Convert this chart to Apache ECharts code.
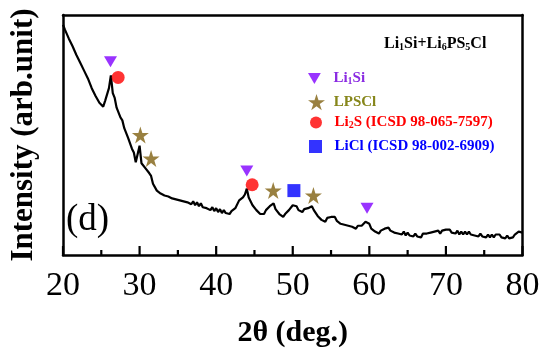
<!DOCTYPE html>
<html>
<head>
<meta charset="utf-8">
<script src="https://cdn.jsdelivr.net/npm/echarts@6/dist/echarts.min.js"></script>
<style>
html,body{margin:0;padding:0;background:#fff;}
#c{width:545px;height:353px;}
</style>
</head>
<body>
<div id="c"></div>
<script>
// Diffraction angle grid (deg), sampled every 0.25 deg from 20 to 80
const angleStart = 20, angleStep = 0.25;
// Intensity (arbitrary units)
const intensity = [
236,231,229,222,220,214,212,205,
204,197,196,189,188,181,180,171,
170,163,162,156,157,152,158,160,
171,184,166,161,151,149,141,138,
130,128,120,118,109,105,95,94,
112,94,93,89,91,84,81,73,
72,66,67,63,65,61,63,60,
62,58,60,57,59,56,58,55,
57,54,56,52,55,51,54,50,
53,49,51,48,50,46,49,45,
48,44,47,43,46,43,45,42,
45,44,48,49,56,55,59,62,
68,59,57,51,52,46,47,42,
44,42,46,45,50,50,53,47,
47,42,43,39,42,41,46,46,
51,51,50,46,48,44,47,45,
48,46,50,46,45,40,41,36,
38,34,38,36,39,37,39,35,
36,32,34,31,33,30,32,29,
31,27,30,28,30,30,34,33,
32,27,28,24,26,22,25,23,
27,25,28,25,26,23,25,22,
24,21,24,20,23,20,22,19,
22,19,21,18,22,20,22,20,
23,21,24,22,25,22,25,23,
26,24,26,23,25,22,25,21,
24,21,24,21,24,21,23,20,
22,19,22,19,21,18,21,18,
21,18,21,19,21,18,20,17,
20,17,19,18,21,20,24,22,
23
];
// Phase markers [2theta, height]
const li1siPeaks = [[26.2,198],[44.0,86],[59.7,48]];
const lpsclPeaks = [[30.1,123],[31.5,99],[47.45,66],[52.7,61]];
const li2sPeaks = [[27.2,182],[44.7,72]];
const liclPeaks = [[50.15,66]];
// Axis tick positions (deg)
const majorTicks = [20,30,40,50,60,70,80];
const minorTicks = [25,35,45,55,65,75];

const serif = '"Liberation Serif","Times New Roman",serif';
const starPath = 'path://M50,0 L61.2,34.5 L97.6,34.5 L68.2,55.9 L79.4,90.5 L50,69.1 L20.6,90.5 L31.8,55.9 L2.4,34.5 L38.8,34.5 Z';
const triDownPath = 'path://M0,0 L100,0 L50,86 Z';

const lineData = intensity.map((v,i)=>[angleStart + i*angleStep, v]);
const tickData = majorTicks.map(t => [t, 9]).concat(minorTicks.map(t => [t, 5]));

const subRich = {s: {fontFamily: serif, fontWeight: 'bold', fontSize: 10, verticalAlign: 'bottom', padding: [6,0,0,0]}};
function legendOf(name, label, color, icon, w, h, left, top) {
  return {
    orient: 'vertical', left: left, top: top, itemWidth: w, itemHeight: h,
    formatter: () => label,
    textStyle: {fontFamily: serif, fontWeight: 'bold', fontSize: 15, color: color, rich: subRich},
    data: [{name: name, icon: icon}]
  };
}

const chart = echarts.init(document.getElementById('c'));
chart.setOption({
  animation: false,
  backgroundColor: '#fff',
  grid: {left: 58, right: 22.5, top: 15, bottom: 92},
  title: {
    text: 'Li{s|1}Si+Li{s|6}PS{s|5}Cl',
    left: 379, top: 31,
    textStyle: {fontFamily: serif, fontWeight: 'bold', fontSize: 16, color: '#000', rich: subRich}
  },
  legend: [
    legendOf('Li1Si', '  Li{s|1}Si', '#8a2be2', triDownPath, 13, 11, 303, 66),
    legendOf('LPSCl', ' LPSCl', '#86861a', starPath, 17, 17, 303, 89),
    legendOf('Li2S', '  Li{s|2}S (ICSD 98-065-7597)', '#ff0000', 'circle', 12, 12, 305, 110),
    legendOf('LiCl', '  LiCl (ICSD 98-002-6909)', '#0000ff', 'rect', 13, 13, 304, 134)
  ],
  xAxis: [{
    type: 'value', min: 20, max: 80, interval: 10, position: 'bottom',
    name: '2θ (deg.)', nameLocation: 'middle', nameGap: 63,
    nameTextStyle: {fontFamily: serif, fontWeight: 'bold', fontSize: 30, color: '#000'},
    axisLine: {show: true, onZero: false, lineStyle: {color: '#000', width: 2.5}},
    axisTick: {show: false},
    splitLine: {show: false},
    axisLabel: {fontFamily: serif, fontSize: 34, color: '#000', margin: 14}
  }, {
    type: 'value', min: 20, max: 80, interval: 10, position: 'top',
    axisLine: {show: true, onZero: false, lineStyle: {color: '#000', width: 2.5}},
    axisTick: {show: false}, axisLabel: {show: false}, splitLine: {show: false}
  }],
  yAxis: [{
    type: 'value', min: 0, max: 246, position: 'left',
    name: 'Intensity (arb.unit)', nameLocation: 'middle', nameGap: 24,
    nameTextStyle: {fontFamily: serif, fontWeight: 'bold', fontSize: 31, color: '#000'},
    axisLine: {show: true, onZero: false, lineStyle: {color: '#000', width: 2.5}},
    axisTick: {show: false}, axisLabel: {show: false}, splitLine: {show: false}
  }, {
    type: 'value', min: 0, max: 246, position: 'right',
    axisLine: {show: true, onZero: false, lineStyle: {color: '#000', width: 2.5}},
    axisTick: {show: false}, axisLabel: {show: false}, splitLine: {show: false}
  }],
  graphic: [{
    type: 'text', left: 66, top: 202,
    style: {text: '(d)', fontFamily: serif, fontSize: 37, fill: '#000'}
  }],
  series: [
    {type: 'custom', name: 'axis ticks', data: tickData, silent: true, clip: false, z: 10,
      renderItem: function (params, api) {
        const p = api.coord([api.value(0), 0]);
        const len = api.value(1);
        return {type: 'line', shape: {x1: p[0], y1: p[1], x2: p[0], y2: p[1] - len},
          style: {stroke: '#000', lineWidth: 2.2}};
      }},
    {type: 'line', name: 'pattern', data: lineData, showSymbol: false, lineStyle: {color: '#000', width: 2.2}, z: 2},
    {type: 'scatter', name: 'Li1Si', data: li1siPeaks, symbol: 'triangle', symbolRotate: 180, symbolSize: [13, 11], itemStyle: {color: '#8000ff'}, z: 3},
    {type: 'scatter', name: 'LPSCl', data: lpsclPeaks, symbol: starPath, symbolSize: 17, itemStyle: {color: '#7f6010'}, z: 3},
    {type: 'scatter', name: 'Li2S', data: li2sPeaks, symbol: 'circle', symbolSize: 13, itemStyle: {color: '#ff0000'}, z: 3},
    {type: 'scatter', name: 'LiCl', data: liclPeaks, symbol: 'rect', symbolSize: 13, itemStyle: {color: '#0000ff'}, z: 3}
  ]
});
</script>
</body>
</html>
